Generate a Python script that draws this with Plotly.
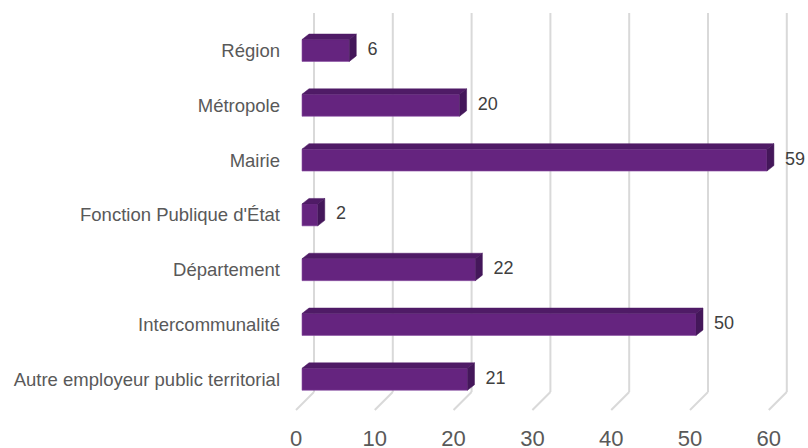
import plotly.graph_objects as go

# données
categories = ['Région', 'Métropole', 'Mairie', "Fonction Publique d'État",
              'Département', 'Intercommunalité', 'Autre employeur public territorial']
valeurs = [6, 20, 59, 2, 22, 50, 21]
graduations = [0, 10, 20, 30, 40, 50, 60]

# géométrie de la pseudo 3D (en unités des axes)
kx = 7.88          # px par unité x
ky = 54.8          # px par catégorie
prof_x = 7 / kx    # profondeur des barres
prof_y = 5.5 / ky
fond_x = 12 / kx   # plan du fond
face_x = -6 / kx   # bord avant du sol
y_haut = (13 - 50.5) / ky
y_sol_fond = (392 - 50.5) / ky
y_sol_face = (410 - 50.5) / ky
demi = 0.2

violet = '#65247f'
violet_dessus = '#4f1b66'
violet_cote = '#44175a'

fig = go.Figure()

# quadrillage du fond + sol (sous les barres)
for t in graduations:
    fig.add_shape(type='line', x0=t + fond_x, x1=t + fond_x, y0=y_haut, y1=y_sol_fond,
                  line=dict(color='#d9d9d9', width=2), layer='below')
    fig.add_shape(type='line', x0=t + fond_x, x1=t + face_x, y0=y_sol_fond, y1=y_sol_face,
                  line=dict(color='#d9d9d9', width=2), layer='below')

pos = list(range(len(categories)))

# faces avant
fig.add_trace(go.Bar(
    x=valeurs, y=pos, orientation='h', width=2 * demi, base=0,
    marker=dict(color=violet, line=dict(color='#8a4fa3', width=0.6)),
    showlegend=False, hoverinfo='x+y'))

# dessus et côté
for v, p in zip(valeurs, pos):
    haut = p - demi
    bas = p + demi
    fig.add_trace(go.Scatter(
        x=[0, v, v + prof_x, prof_x, 0],
        y=[haut, haut, haut - prof_y, haut - prof_y, haut],
        fill='toself', fillcolor=violet_dessus, mode='lines',
        line=dict(color=violet_dessus, width=0.5),
        hoverinfo='skip', showlegend=False))
    fig.add_trace(go.Scatter(
        x=[v, v + prof_x, v + prof_x, v, v],
        y=[haut, haut - prof_y, bas - prof_y, bas, haut],
        fill='toself', fillcolor=violet_cote, mode='lines',
        line=dict(color=violet_cote, width=0.5),
        hoverinfo='skip', showlegend=False))

# étiquettes de valeurs
fig.add_trace(go.Scatter(
    x=[v + 2.3 for v in valeurs], y=pos,
    mode='text', text=[str(v) for v in valeurs], textposition='middle right',
    textfont=dict(family='Liberation Sans, Arial', size=18, color='#404040'),
    hoverinfo='skip', showlegend=False, cliponaxis=False))

fig.update_layout(
    width=808, height=448,
    margin=dict(l=286, r=6, t=10, b=25),
    plot_bgcolor='white', paper_bgcolor='white',
    font=dict(family='Liberation Sans, Arial', color='#595959'),
    xaxis=dict(range=[-16 / kx, 500 / kx], showgrid=False, zeroline=False,
               showline=False, ticks='',
               tickvals=[t + face_x for t in graduations],
               ticktext=[str(t) for t in graduations],
               tickfont=dict(size=22, color='#595959'), automargin=False),
    yaxis=dict(range=[(423 - 50.5) / ky, (10 - 50.5) / ky], showgrid=False,
               zeroline=False, showline=False, ticks='', ticklabelstandoff=5,
               tickvals=pos, ticktext=categories,
               tickfont=dict(size=18.5, color='#595959'), automargin=False),
)

# pas de marge ni de barre de défilement autour du graphique
fig.write_html('out.html', config={'displayModeBar': False},
               post_script="document.body.style.margin='0';"
                           "document.documentElement.style.overflow='hidden';"
                           "document.body.style.overflow='hidden';")
